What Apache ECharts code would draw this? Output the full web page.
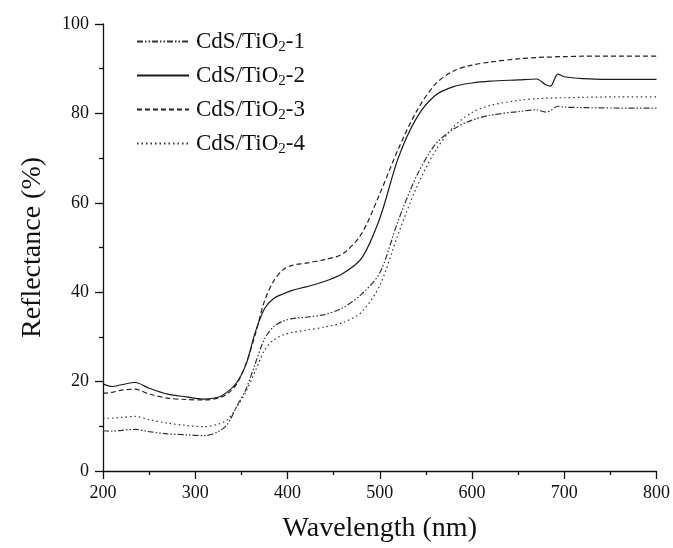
<!DOCTYPE html>
<html>
<head>
<meta charset="utf-8">
<script src="https://cdn.jsdelivr.net/npm/echarts@6/dist/echarts.min.js"></script>
<style>
  html, body { margin: 0; padding: 0; background: #fff; }
  #main { width: 673px; height: 548px; }
</style>
</head>
<body>
<div id="main"></div>
<script>
var wavelength = [200, 210, 220, 235, 250, 270, 290, 310, 325, 335, 345, 355, 365, 375, 385, 395, 405, 420, 440, 460, 480, 500, 520, 540, 560, 580, 600, 620, 650, 670, 680, 685, 693, 700, 720, 760, 800];

var cds1 = [9.0, 8.9, 9.1, 9.3, 8.8, 8.3, 8.1, 7.9, 8.8, 10.5, 14.5, 18.3, 24.0, 29.5, 32.3, 33.5, 34.1, 34.4, 35.0, 36.5, 39.5, 44.3, 56.0, 66.0, 73.0, 76.5, 78.5, 79.6, 80.4, 80.8, 80.3, 80.6, 81.6, 81.4, 81.3, 81.2, 81.2];
var cds2 = [19.5, 18.9, 19.3, 19.8, 18.5, 17.2, 16.6, 16.1, 16.5, 17.7, 19.8, 23.8, 31.0, 36.3, 38.6, 39.6, 40.4, 41.2, 42.4, 44.2, 47.5, 56.5, 70.0, 79.0, 84.0, 86.0, 86.8, 87.2, 87.5, 87.7, 86.4, 86.1, 88.8, 88.2, 87.8, 87.6, 87.6];
var cds3 = [17.4, 17.6, 18.1, 18.3, 17.2, 16.3, 16.0, 15.9, 16.3, 17.3, 19.5, 24.0, 30.5, 38.0, 42.5, 45.0, 46.0, 46.5, 47.3, 48.6, 53.0, 62.0, 72.0, 80.5, 86.5, 89.5, 90.8, 91.5, 92.2, 92.5, 92.6, 92.6, 92.7, 92.7, 92.8, 92.8, 92.8];
var cds4 = [11.8, 11.8, 12.0, 12.2, 11.5, 10.7, 10.2, 9.9, 10.5, 11.5, 14.3, 17.8, 22.3, 27.0, 29.3, 30.4, 31.0, 31.5, 32.2, 33.2, 35.5, 41.5, 53.0, 63.5, 71.5, 77.0, 80.2, 81.8, 82.9, 83.3, 83.4, 83.4, 83.5, 83.5, 83.6, 83.7, 83.7];

var seriesNames = ['CdS/TiO{sub|2}-1', 'CdS/TiO{sub|2}-2', 'CdS/TiO{sub|2}-3', 'CdS/TiO{sub|2}-4'];

function pairs(ys) {
  return wavelength.map(function (x, i) { return [x, ys[i]]; });
}

var dom = document.getElementById('main');
var myChart = echarts.init(dom);

var serif = '"Liberation Serif", "DejaVu Serif", serif';

function lineSeries(name, ys, type, color) {
  return {
    name: name,
    type: 'line',
    data: pairs(ys),
    smooth: 0.3,
    showSymbol: false,
    symbol: 'none',
    lineStyle: { color: color, width: 1.2, type: type },
    itemStyle: { color: color }
  };
}

var option = {
  animation: false,
  backgroundColor: '#fff',
  grid: { left: 103, right: 15, top: 24, bottom: 75 },
  legend: {
    orient: 'vertical',
    left: 131,
    top: 25,
    itemWidth: 52,
    itemHeight: 14,
    itemGap: 9,
    data: seriesNames,
    itemStyle: { opacity: 0 },
    textStyle: {
      fontFamily: serif,
      fontSize: 23,
      color: '#111',
      padding: [0, 0, 0, 2],
      rich: {
        sub: { fontFamily: serif, fontSize: 15, color: '#111', padding: [12, 0, 0, 0] }
      }
    }
  },
  xAxis: {
    type: 'value',
    min: 200,
    max: 800,
    interval: 100,
    name: 'Wavelength (nm)',
    nameLocation: 'middle',
    nameGap: 44,
    nameTextStyle: { fontFamily: serif, fontSize: 28, color: '#111' },
    axisLine: { lineStyle: { color: '#111', width: 1.3 } },
    axisTick: { length: 8, lineStyle: { color: '#111', width: 1.3 } },
    minorTick: { show: true, splitNumber: 2, length: 4, lineStyle: { color: '#111', width: 1.3 } },
    axisLabel: { fontFamily: serif, fontSize: 18, color: '#111', margin: 13 },
    splitLine: { show: false }
  },
  yAxis: {
    type: 'value',
    min: 0,
    max: 100,
    interval: 20,
    name: 'Reflectance (%)',
    nameLocation: 'middle',
    nameGap: 56,
    nameTextStyle: { fontFamily: serif, fontSize: 28, color: '#111' },
    axisLine: { show: true, lineStyle: { color: '#111', width: 1.3 } },
    axisTick: { show: true, length: 8, lineStyle: { color: '#111', width: 1.3 } },
    minorTick: { show: true, splitNumber: 2, length: 4, lineStyle: { color: '#111', width: 1.3 } },
    axisLabel: { fontFamily: serif, fontSize: 18, color: '#111', margin: 14 },
    splitLine: { show: false }
  },
  series: [
    lineSeries(seriesNames[0], cds1, [6, 2, 1.5, 2, 1.5, 2], '#333'),
    lineSeries(seriesNames[1], cds2, 'solid', '#1a1a1a'),
    lineSeries(seriesNames[2], cds3, [5, 3], '#222'),
    lineSeries(seriesNames[3], cds4, [1.5, 3], '#333')
  ]
};

myChart.setOption(option);
window.addEventListener('resize', myChart.resize);
</script>
</body>
</html>
